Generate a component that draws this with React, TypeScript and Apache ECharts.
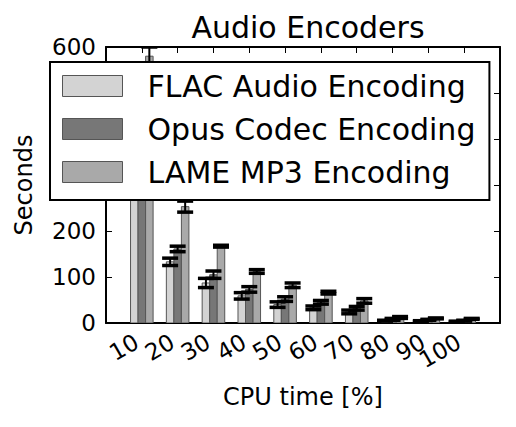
import React, { useEffect, useRef } from "react";
import * as echarts from "echarts";

const categories = ["10", "20", "30", "40", "50", "60", "70", "80", "90", "100"];
const seriesNames = ["FLAC Audio Encoding", "Opus Codec Encoding", "LAME MP3 Encoding"];
const flacValues = [310, 133, 87, 59, 40, 33, 24, 5, 4, 3];
const flacErrors = [12, 8, 10, 7, 6, 4, 4, 1, 1, 1];
const opusValues = [370, 161, 105, 73, 52, 45, 32, 8, 7, 5];
const opusErrors = [14, 6, 8, 6, 5, 4, 4, 2, 1, 1];
const lameValues = [580, 253, 167, 112, 82, 66, 48, 12, 10, 9];
const lameErrors = [20, 12, 2, 4, 5, 3, 5, 2, 1, 1];
const yTicks = [0, 100, 200, 300, 400, 500, 600];

const colors = ["#d3d3d3", "#777777", "#a9a9a9"];
const FONT = "DejaVu Sans";
const BAR_W = 0.21;

export default function App() {
  const ref = useRef<HTMLDivElement>(null);
  useEffect(() => {
    if (!ref.current) return;
    const chart = echarts.init(ref.current, undefined, { renderer: "svg" });
    const valuesList = [flacValues, opusValues, lameValues];
    const errorsList = [flacErrors, opusErrors, lameErrors];
    const offsets = [-BAR_W, 0, BAR_W];

    const barSeries = valuesList.map((vals, s) => ({
      type: "custom",
      name: seriesNames[s],
      clip: true,
      z: 2,
      itemStyle: { color: colors[s], borderColor: "#555", borderWidth: 1 },
      data: vals.map((v, i) => [i, v]),
      encode: { x: 0, y: 1 },
      renderItem: (params: any, api: any) => {
        const x = api.value(0) + offsets[s];
        const v = api.value(1);
        const p0 = api.coord([x - BAR_W / 2, v]);
        const p1 = api.coord([x + BAR_W / 2, 0]);
        return {
          type: "rect",
          shape: { x: p0[0], y: p0[1], width: p1[0] - p0[0], height: p1[1] - p0[1] },
          style: { fill: colors[s], stroke: "#555", lineWidth: 1 },
        };
      },
    }));

    const errSeries = valuesList.map((vals, s) => ({
      type: "custom",
      clip: true,
      z: 3,
      silent: true,
      data: vals.map((v, i) => [i, v, errorsList[s][i]]),
      encode: { x: 0, y: 1 },
      renderItem: (params: any, api: any) => {
        const x = api.value(0) + offsets[s];
        const v = api.value(1);
        const e = api.value(2);
        const top = api.coord([x, v + e]);
        const bot = api.coord([x, v - e]);
        const hw = 8;
        const st = { stroke: "#000", lineWidth: 3.5 };
        return {
          type: "group",
          children: [
            { type: "line", shape: { x1: top[0], y1: top[1], x2: bot[0], y2: bot[1] }, style: { stroke: "#000", lineWidth: 2 } },
            { type: "line", shape: { x1: top[0] - hw, y1: top[1], x2: top[0] + hw, y2: top[1] }, style: st },
            { type: "line", shape: { x1: bot[0] - hw, y1: bot[1], x2: bot[0] + hw, y2: bot[1] }, style: st },
          ],
        };
      },
    }));

    const xLabel = (val: number) => {
      const i = Math.round(val);
      return i >= 0 && i < categories.length ? categories[i] : "";
    };

    const axisLine = { show: true, onZero: false, lineStyle: { color: "#000", width: 2 } };
    const axisTick = { show: true, inside: true, length: 6, lineStyle: { color: "#000", width: 1 } };

    const option: any = {
      animation: false,
      title: {
        text: "Audio Encoders",
        left: 303,
        textAlign: "center",
        top: 7,
        textStyle: { fontFamily: FONT, fontSize: 30, fontWeight: "normal", color: "#000" },
      },
      legend: {
        data: seriesNames.map((n, i) => ({ name: n, icon: "rect", itemStyle: { color: colors[i], borderColor: "#555", borderWidth: 1 } })),
        orient: "vertical",
        left: 50,
        top: 62,
        itemWidth: 60,
        itemHeight: 21,
        itemGap: 13,
        padding: [9, 14, 13, 12],
        backgroundColor: "#fff",
        borderColor: "#000",
        borderWidth: 2,
        borderRadius: 0,
        textStyle: { fontFamily: FONT, fontSize: 30, color: "#000", lineHeight: 30, padding: [0, 0, 0, 20] },
        selectedMode: false,
      },
      grid: { left: 106, right: 16, top: 47, bottom: 104 },
      xAxis: [
        {
          type: "value",
          position: "bottom",
          min: -1,
          max: 10,
          interval: 1,
          name: "CPU time [%]",
          nameLocation: "middle",
          nameGap: 62,
          nameTextStyle: { fontFamily: FONT, fontSize: 24, color: "#000" },
          axisLine,
          axisTick,
          axisLabel: { rotate: 30, margin: 14, padding: [0, 6, 0, 0], formatter: xLabel, fontFamily: FONT, fontSize: 23, color: "#000" },
          splitLine: { show: false },
        },
        {
          type: "value",
          position: "top",
          min: -1,
          max: 10,
          interval: 1,
          axisLine,
          axisTick,
          axisLabel: { show: false },
          splitLine: { show: false },
        },
      ],
      yAxis: [
        {
          type: "value",
          position: "left",
          min: yTicks[0],
          max: yTicks[yTicks.length - 1],
          interval: 100,
          name: "Seconds",
          nameLocation: "middle",
          nameGap: 70,
          nameTextStyle: { fontFamily: FONT, fontSize: 24, color: "#000" },
          axisLine,
          axisTick,
          axisLabel: { margin: 10, fontFamily: FONT, fontSize: 23, color: "#000" },
          splitLine: { show: false },
        },
        {
          type: "value",
          position: "right",
          min: yTicks[0],
          max: yTicks[yTicks.length - 1],
          interval: 100,
          axisLine,
          axisTick,
          axisLabel: { show: false },
          splitLine: { show: false },
        },
      ],
      series: [...barSeries, ...errSeries],
    };
    chart.setOption(option);
    return () => chart.dispose();
  }, []);
  return <div ref={ref} style={{ position: "fixed", left: 0, top: 0, width: 516, height: 427, background: "#fff" }} />;
}
